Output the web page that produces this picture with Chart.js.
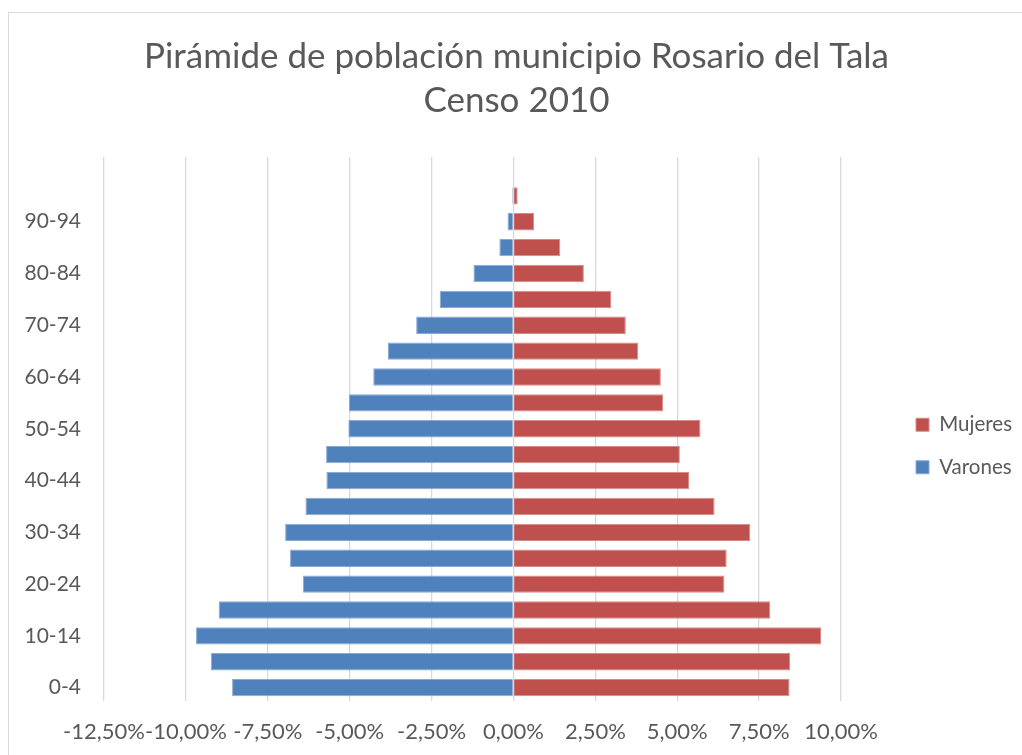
<!DOCTYPE html>
<html>
<head>
<meta charset="utf-8">
<script src="https://cdn.jsdelivr.net/npm/chart.js@4/dist/chart.umd.min.js"></script>
<style>
  html, body { margin: 0; padding: 0; background: #fff; overflow: hidden; }
  #frame {
    position: absolute; left: 8px; top: 12px;
    width: 1040px; height: 780px;
    border: 1px solid #D9D9D9;
  }
  #pyramid { display: block; }
</style>
</head>
<body>
<div id="frame">
  <canvas id="pyramid" width="1015" height="760"></canvas>
</div>
<script>
// Age groups, youngest first (drawn from the bottom up); last row is left blank
const ageGroups = ['0-4', '5-9', '10-14', '15-19', '20-24', '25-29', '30-34', '35-39',
  '40-44', '45-49', '50-54', '55-59', '60-64', '65-69', '70-74', '75-79',
  '80-84', '85-89', '90-94', '95+', ''];

// Share of total population, % (men on the negative side)
const varones = [-8.59, -9.24, -9.69, -9.00, -6.43, -6.82, -6.97, -6.35, -5.71, -5.72,
  -5.04, -5.02, -4.28, -3.83, -2.97, -2.25, -1.22, -0.43, -0.18, -0.04, null];
const mujeres = [8.43, 8.45, 9.39, 7.84, 6.44, 6.51, 7.23, 6.14, 5.36, 5.08,
  5.71, 4.57, 4.50, 3.81, 3.43, 2.99, 2.15, 1.43, 0.63, 0.13, null];

const xTicks = [-12.5, -10, -7.5, -5, -2.5, 0, 2.5, 5, 7.5, 10];

const FONT = 'Lato, "Open Sans", sans-serif';
const TEXT = '#595959';
const GRID = '#D9D9D9';

function pct(v) {
  return v.toFixed(2).replace('.', ',') + '%';
}

// legend gets a fixed-width column on the right, entries pushed toward its middle
const legendPlacement = {
  id: 'legendPlacement',
  beforeLayout(chart) {
    const lg = chart.legend;
    if (!lg || lg._fixedWidth) return;
    const fit = lg.fit;
    lg.fit = function () {
      fit.call(this);
      this.width = 183;
    };
    lg._fixedWidth = true;
  },
  afterLayout(chart) {
    const lg = chart.legend;
    if (!lg) return;
    const dx = 53, dy = 58;
    lg.left += dx;
    lg.right += dx;
    lg.top += dy;
    lg.bottom += dy;
  }
};

new Chart(document.getElementById('pyramid'), {
  type: 'bar',
  data: {
    labels: ageGroups,
    datasets: [
      {
        label: 'Mujeres',
        data: mujeres,
        backgroundColor: '#C0504D',
        borderColor: '#D88A88',
        borderWidth: 1,
        barPercentage: 0.67,
        categoryPercentage: 1
      },
      {
        label: 'Varones',
        data: varones,
        backgroundColor: '#4F81BD',
        borderColor: '#8AA9D4',
        borderWidth: 1,
        barPercentage: 0.67,
        categoryPercentage: 1
      }
    ]
  },
  options: {
    indexAxis: 'y',
    responsive: false,
    animation: false,
    layout: { padding: { left: 0, right: 0, top: 0, bottom: 10 } },
    scales: {
      x: {
        stacked: true,
        min: -12.5,
        max: 10,
        afterBuildTicks(scale) {
          scale.ticks = xTicks.map(v => ({ value: v }));
        },
        ticks: {
          autoSkip: false,
          maxRotation: 0,
          padding: 18,
          color: TEXT,
          font: { family: FONT, size: 22 },
          callback: v => pct(v)
        },
        grid: { color: GRID, lineWidth: 1.3, drawTicks: false },
        border: { display: false }
      },
      y: {
        stacked: true,
        reverse: true,
        afterFit(scale) { scale.width = 95; },
        ticks: {
          autoSkip: false,
          padding: 23,
          color: TEXT,
          font: { family: FONT, size: 21 },
          // only every second age group gets a label
          callback: function (v, i) { return i % 2 === 0 ? this.getLabelForValue(v) : ''; }
        },
        grid: { display: false, drawTicks: false },
        border: { display: false }
      }
    },
    plugins: {
      title: {
        display: true,
        text: ['Pirámide de población municipio Rosario del Tala', 'Censo 2010'],
        color: TEXT,
        font: { family: FONT, size: 35, weight: 'normal', lineHeight: 1.257 },
        padding: { top: 22, bottom: 34 }
      },
      legend: {
        position: 'right',
        labels: {
          color: TEXT,
          font: { family: FONT, size: 20.5 },
          boxWidth: 13,
          boxHeight: 13,
          padding: 22
        }
      },
      tooltip: { enabled: false }
    }
  },
  plugins: [legendPlacement]
});
</script>
</body>
</html>
